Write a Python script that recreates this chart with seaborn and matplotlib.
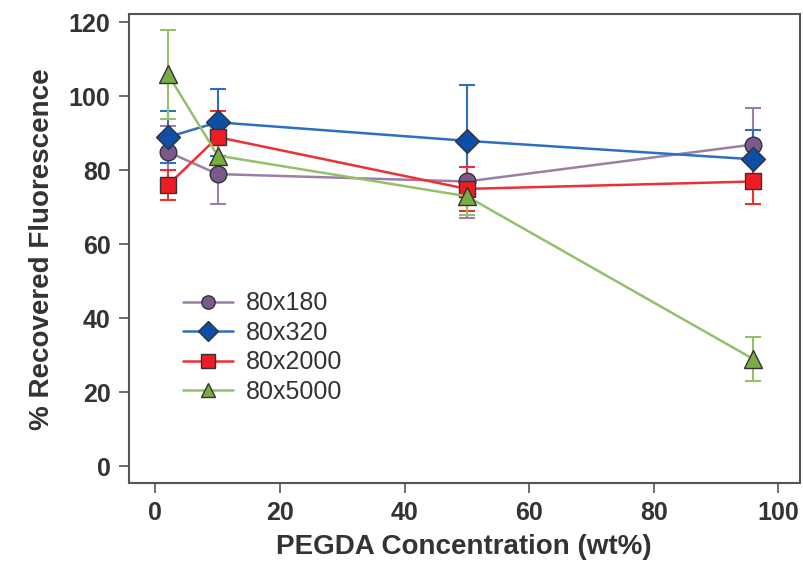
import pandas as pd
import numpy as np
import matplotlib.pyplot as plt
import seaborn as sns

# Datos
conc = [2, 10, 50, 96]
series = ['80x180', '80x320', '80x2000', '80x5000']
val_180 = [85, 79, 77, 87]
err_180 = [7, 8, 10, 10]
val_320 = [89, 93, 88, 83]
err_320 = [7, 9, 15, 8]
val_2000 = [76, 89, 75, 77]
err_2000 = [4, 7, 6, 6]
val_5000 = [106, 84, 73, 29]
err_5000 = [12, 5, 5, 6]

vals = [val_180, val_320, val_2000, val_5000]
errs = [err_180, err_320, err_2000, err_5000]

df = pd.DataFrame({
    'conc': conc * 4,
    'serie': np.repeat(series, 4),
    'valor': np.concatenate(vals),
    'err': np.concatenate(errs),
})

line_cols = {'80x180': '#9a80a6', '80x320': '#2f6fbf', '80x2000': '#ee3035', '80x5000': '#93c16a'}
face_cols = {'80x180': '#7a5a8c', '80x320': '#0d4fa6', '80x2000': '#ee1c24', '80x5000': '#7aab45'}
marks = {'80x180': 'o', '80x320': 'D', '80x2000': 's', '80x5000': '^'}
msize = {'80x180': 12, '80x320': 12.5, '80x2000': 12, '80x5000': 13}

sns.set_style('white')
plt.rcParams['font.family'] = ['Liberation Sans', 'DejaVu Sans']

fig = plt.figure(figsize=(8.04, 5.72), dpi=100)
ax = fig.add_axes([0.160, 0.155, 0.835, 0.820])

# barras de error primero, debajo de las lineas
for s in series:
    d = df[df['serie'] == s]
    ax.errorbar(d['conc'], d['valor'], yerr=d['err'], fmt='none',
                ecolor=line_cols[s], elinewidth=1.5, capsize=6, capthick=1.5, zorder=1)

for s in series:
    d = df[df['serie'] == s]
    sns.lineplot(data=d, x='conc', y='valor', ax=ax, color=line_cols[s], linewidth=1.8,
                 marker=marks[s], markersize=msize[s], markerfacecolor=face_cols[s],
                 markeredgecolor='#333333', markeredgewidth=1.0, label=s, zorder=2)

ax.set_xlim(-4.3, 103.5)
ax.set_ylim(-4.6, 122.2)
ax.set_xticks([0, 20, 40, 60, 80, 100])
ax.set_yticks([0, 20, 40, 60, 80, 100, 120])

for sp in ax.spines.values():
    sp.set_color('#555555')
    sp.set_linewidth(1.5)

ax.tick_params(axis='both', direction='out', length=7, width=1.2, color='#555555',
               labelsize=18, labelcolor='#333333', pad=6, left=True, bottom=True)
for lab in ax.get_xticklabels() + ax.get_yticklabels():
    lab.set_fontweight('bold')

ax.set_xlabel('PEGDA Concentration (wt%)', fontsize=20, fontweight='bold', color='#333333', labelpad=6)
ax.set_ylabel('% Recovered Fluorescence', fontsize=20, fontweight='bold', color='#333333', labelpad=10)

leg = ax.legend(loc='lower left', bbox_to_anchor=(0.063, 0.143), frameon=False, borderpad=0,
                fontsize=18, handlelength=2.0, labelspacing=0.22, handletextpad=0.5,
                markerscale=0.8)
for t in leg.get_texts():
    t.set_color('#333333')

plt.savefig('out.png', dpi=100)
